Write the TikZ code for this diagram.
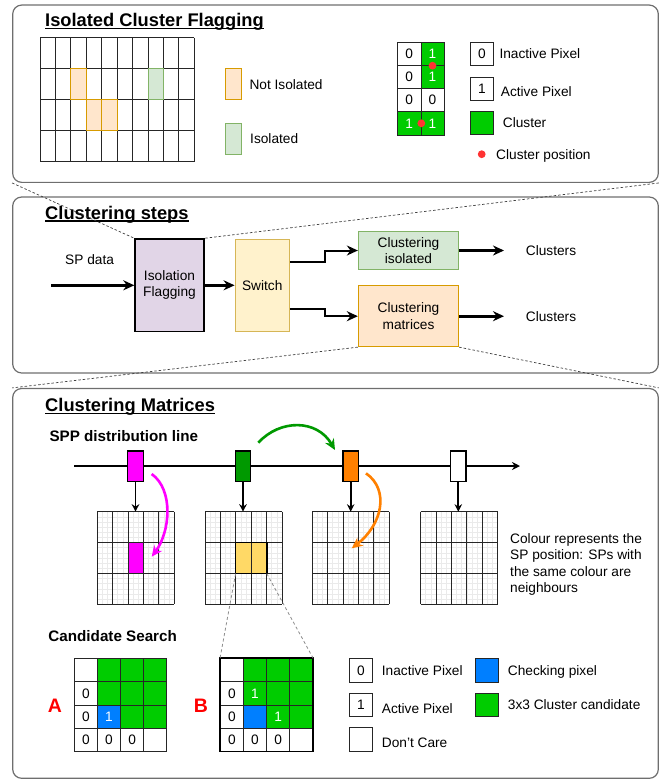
\documentclass[tikz,border=0pt]{standalone}
\usepackage{fontspec}
\setmainfont{Liberation Sans}
\usetikzlibrary{positioning, arrows.meta, calc}
\definecolor{cmpanel}{HTML}{6E6E6E}
\definecolor{cmgrid}{HTML}{262626}
\definecolor{cmminor}{HTML}{EAEAEA}
\definecolor{cmpurple}{HTML}{E1D5E7}
\definecolor{cmyellow}{HTML}{FFF2CC}
\definecolor{cmyellowd}{HTML}{D6B656}
\definecolor{cmgreenl}{HTML}{D5E8D4}
\definecolor{cmgreend}{HTML}{82B366}
\definecolor{cmorangel}{HTML}{FFE6CC}
\definecolor{cmoranged}{HTML}{D79B00}
\definecolor{cmgreen}{HTML}{00CC00}
\definecolor{cmblue}{HTML}{007FFF}
\definecolor{cmred}{HTML}{FF3333}
\definecolor{cmletter}{HTML}{FF0000}
\definecolor{cmmagenta}{HTML}{FF00FF}
\definecolor{cmdkgreen}{HTML}{009900}
\definecolor{cmorange}{HTML}{FF8000}
\definecolor{cmgold}{HTML}{FFD966}

\tikzset{
  panel/.style={draw=cmpanel, line width=1.2pt, rounded corners=9pt, inner sep=0pt},
  ttl/.style={font=\fontsize{18.3}{22}\selectfont\bfseries, anchor=base west, inner sep=0pt},
  subttl/.style={font=\fontsize{15.2}{18}\selectfont\bfseries, anchor=base west, inner sep=0pt},
  uline/.style={line width=1.5pt},
  lbl/.style={anchor=base west, inner sep=0pt},
  blk/.style={draw, align=center, inner sep=0pt, line width=0.9pt},
  cell/.style={draw=cmgrid, line width=0.8pt, minimum size=23.2pt, inner sep=0pt, anchor=north west},
  gridln/.style={draw=cmgrid, line width=0.9pt},
  minorln/.style={draw=cmminor, line width=0.7pt},
  majorln/.style={draw=cmgrid, line width=0.9pt},
  nisol/.style={fill=cmorangel, draw=cmoranged, line width=0.9pt},
  isol/.style={fill=cmgreenl, draw=cmgreend, line width=0.9pt},
  sprect/.style={draw, line width=1.3pt, minimum width=15.6pt, minimum height=30.3pt, inner sep=0pt},
  thka/.style={line width=3pt, -{Stealth[length=11pt, width=10pt]}},
  elba/.style={line width=2pt, -{Stealth[length=11pt, width=10pt]}},
  linea/.style={line width=1.5pt, -{Stealth[length=8pt, width=8pt]}},
  downa/.style={line width=1.7pt, -{Stealth[length=7.5pt, width=7.5pt]}},
  curva/.style={line width=2.6pt, -{Stealth[length=11pt, width=10pt]}},
  zoomln/.style={draw=black!75, line width=0.7pt, dash pattern=on 2.5pt off 2pt},
  zoomgr/.style={draw=black!45, line width=0.8pt, dash pattern=on 3pt off 2.5pt},
  abl/.style={font=\fontsize{19.5}{22}\selectfont\bfseries, text=cmletter, inner sep=0pt}
}

\begin{document}
\begin{tikzpicture}[x=1pt, y=-1pt, font=\fontsize{13.7}{16.3}\selectfont]
\useasboundingbox (0,0) rectangle (665,780);

\node[panel, minimum width=645.6pt, minimum height=177.3pt] (pflag) at (335.5,93.7) {};
\node[panel, minimum width=645.6pt, minimum height=176pt] (psteps) at (335.5,285) {};
\node[panel, minimum width=645.6pt, minimum height=389.8pt] (pmat) at (335.5,583.4) {};

\node[ttl] (tflag) at (45,26.7) {Isolated Cluster Flagging};
\draw[uline] ([yshift=-1.8pt]tflag.base west) -- ([yshift=-1.8pt]tflag.base east);
\node[ttl] (tsteps) at (45,219.3) {Clustering steps};
\draw[uline] ([yshift=-1.8pt]tsteps.base west) -- ([yshift=-1.8pt]tsteps.base east);
\node[ttl] (tmat) at (45,411.7) {Clustering Matrices};
\draw[uline] ([yshift=-1.8pt]tmat.base west) -- ([yshift=-1.8pt]tmat.base east);

\foreach \i in {0,...,10}
  \draw[gridln] (40+\i*15.43,37.7) -- (40+\i*15.43,161.7);
\foreach \j in {0,...,4}
  \draw[gridln] (40,37.7+\j*31) -- (194.3,37.7+\j*31);
\foreach \c/\r in {2/1, 3/2, 4/2}
  \draw[nisol] (40+\c*15.43,37.7+\r*31) rectangle ++(15.43,31);
\draw[isol] (40+7*15.43,37.7+31) rectangle ++(15.43,31);

\node[nisol, minimum width=15.7pt, minimum height=31pt, anchor=north west] (legni) at (225,68.3) {};
\node[lbl] (txtni) at (249.3,89.3) {Not Isolated};
\node[isol, minimum width=15.7pt, minimum height=31pt, anchor=north west] (legis) at (225,123.3) {};
\node[lbl] (txtis) at (250,143.3) {Isolated};

\foreach \r/\c/\f/\t/\v in {0/0/white/black/0, 0/1/cmgreen/white/1, 1/0/white/black/0, 1/1/cmgreen/white/1,
    2/0/white/black/0, 2/1/white/black/0, 3/0/cmgreen/white/1, 3/1/cmgreen/white/1}
  \node[cell, fill=\f, text=\t] (m-\r-\c) at (397.3+\c*23.2,41.7+\r*23.2) {\v};
\fill[cmred] (m-0-1.south) circle (3.9);
\fill[cmred] (m-3-0.east) circle (3.9);

\node[cell] (li0) at (470,41.7) {0};
\node[lbl] (li0t) at (499.3,58.3) {Inactive Pixel};
\node[cell] (li1) at (470,76.7) {1};
\node[lbl] (li1t) at (500.7,96.7) {Active Pixel};
\node[cell, fill=cmgreen] (lic) at (470,111) {};
\node[lbl] (lict) at (502.7,127.7) {Cluster};
\fill[cmred] (481.7,154.2) circle (3.9);
\node[lbl] (lidt) at (496,159) {Cluster position};

\node[lbl] (spdata) at (65,264) {SP data};
\node[blk, fill=cmpurple, line width=1.4pt, minimum width=69pt, minimum height=92.7pt] (iso) at (169.5,285.3) {Isolation\\Flagging};
\node[blk, fill=cmyellow, draw=cmyellowd, minimum width=54.3pt, minimum height=92.7pt] (sw) at (262.2,285.3) {Switch};
\node[blk, fill=cmgreenl, draw=cmgreend, minimum width=100.4pt, minimum height=37.6pt] (ciso) at (408.5,250.5) {Clustering\\isolated};
\node[blk, fill=cmorangel, draw=cmoranged, minimum width=100.4pt, minimum height=61pt] (cmat) at (408.5,316.2) {Clustering\\matrices};
\node[lbl] (outiso) at (525.7,255.7) {Clusters};
\node[lbl] (outmat) at (525.7,321.7) {Clusters};
\coordinate (spin) at (51,285.3);
\coordinate (endiso) at (504,250.5);
\coordinate (endmat) at (504,316.2);
\draw[thka] (spin) -- (iso);
\draw[thka] (iso) -- (sw);
\draw[elba] ($(sw.north east)!0.25!(sw.south east)$) -- ++(34.7,0) |- (ciso);
\draw[elba] ($(sw.north east)!0.75!(sw.south east)$) -- ++(34.7,0) |- (cmat);
\draw[thka] (ciso) -- (endiso);
\draw[thka] (cmat) -- (endmat);

\node[subttl] (tspp) at (49.3,441.7) {SPP distribution line};
\coordinate (lstart) at (74,466);
\coordinate (lend) at (520,466);
\draw[linea] (lstart) -- (lend);
\foreach \x/\f [count=\k] in {135.5/cmmagenta, 243/cmdkgreen, 350.7/cmorange, 458.3/white}
  \node[sprect, fill=\f] (sp\k) at (\x,466) {};

\foreach \gx [count=\k] in {97.3, 205, 312.3, 420.7} {
  \foreach \i in {1,...,14}
    \draw[minorln] (\gx+\i*5.133,511.7) -- ++(0,92.6);
  \foreach \j in {1,...,17}
    \draw[minorln] (\gx,511.7+\j*5.144) -- ++(77,0);
  \coordinate (gtop\k) at (\gx+38.5,511.7);
}
\node[fill=cmmagenta, minimum width=15.4pt, minimum height=30.87pt, inner sep=0pt] (pcell) at (135.8,558) {};
\node[fill=cmgold, minimum width=30.8pt, minimum height=30.87pt, inner sep=0pt] (gsel) at (251.2,558) {};
\foreach \gx in {97.3, 205, 312.3, 420.7} {
  \foreach \i in {0,...,5}
    \draw[majorln] (\gx+\i*15.4,511.7) -- ++(0,92.6);
  \foreach \j in {0,...,3}
    \draw[majorln] (\gx,511.7+\j*30.87) -- ++(77,0);
}
\draw[line width=1.6pt] (gsel.north west) rectangle (gsel.south east);
\foreach \k in {1,...,4}
  \draw[downa] (sp\k) -- (sp\k |- gtop\k);

\coordinate (mgs) at (151.7,474);
\coordinate (mge) at (151.7,556.7);
\draw[curva, cmmagenta] (mgs) .. controls (174,490) and (170,532) .. (mge);
\coordinate (grs) at (258.3,442.7);
\coordinate (gre) at (335,450);
\draw[curva, cmdkgreen] (grs) .. controls (280,419) and (317,419) .. (gre);
\coordinate (ors) at (366,473.3);
\coordinate (ore) at (351.7,548.3);
\draw[curva, cmorange] (ors) .. controls (390,490) and (382,525) .. (ore);

\node[align=left, anchor=north west, inner sep=0pt] (note) at (510,533.3) {Colour represents the\\SP position: SPs with\\the same colour are\\neighbours};

\node[subttl] (tcand) at (48.3,641.7) {Candidate Search};
\node[abl] (laba) at (55,705.7) {A};
\node[abl] (labb) at (201,705.7) {B};

\foreach \r/\c/\f/\t/\v in {0/0/white/black/{}, 0/1/cmgreen/white/{}, 0/2/cmgreen/white/{}, 0/3/cmgreen/white/{},
    1/0/white/black/0, 1/1/cmgreen/white/{}, 1/2/cmgreen/white/{}, 1/3/cmgreen/white/{},
    2/0/white/black/0, 2/1/cmblue/white/1, 2/2/cmgreen/white/{}, 2/3/cmgreen/white/{},
    3/0/white/black/0, 3/1/white/black/0, 3/2/white/black/0, 3/3/white/black/{}}
  \node[cell, fill=\f, text=\t, minimum size=23.1pt] (a-\r-\c) at (74+\c*23.1,658.3+\r*23.1) {\v};
\foreach \r/\c/\f/\t/\v in {0/0/white/black/{}, 0/1/cmgreen/white/{}, 0/2/cmgreen/white/{}, 0/3/cmgreen/white/{},
    1/0/white/black/0, 1/1/cmgreen/white/1, 1/2/cmgreen/white/{}, 1/3/cmgreen/white/{},
    2/0/white/black/0, 2/1/cmblue/white/{}, 2/2/cmgreen/white/1, 2/3/cmgreen/white/{},
    3/0/white/black/0, 3/1/white/black/0, 3/2/white/black/0, 3/3/white/black/{}}
  \node[cell, fill=\f, text=\t, minimum size=23.1pt] (b-\r-\c) at (220+\c*23.1,658.3+\r*23.1) {\v};
\draw[line width=1.8pt] (b-0-0.north west) rectangle (b-3-3.south east);

\node[cell] (cl0) at (349,658.3) {0};
\node[lbl] (cl0t) at (381.7,675) {Inactive Pixel};
\node[cell] (cl1) at (349,692.7) {1};
\node[lbl] (cl1t) at (381.7,713.3) {Active Pixel};
\node[cell] (cldc) at (349,727.3) {};
\node[lbl] (cldct) at (381.7,747.7) {Don{\char"0027}t Care};
\node[cell, fill=cmblue] (clb) at (475,658.3) {};
\node[lbl] (clbt) at (507.7,675) {Checking pixel};
\node[cell, fill=cmgreen] (clg) at (475,692.7) {};
\node[lbl] (clgt) at (507.7,709.3) {3x3 Cluster candidate};

\draw[zoomln] (pflag.south west) -- (iso.north west);
\draw[zoomln] (pflag.south east) -- (iso.north east);
\draw[zoomln] (cmat.south west) -- (pmat.north west);
\draw[zoomln] (cmat.south east) -- (pmat.north east);
\draw[zoomgr] (gsel.south west) -- (b-0-0.north west);
\draw[zoomgr] (gsel.south east) -- (b-0-3.north east);
\end{tikzpicture}
\end{document}
